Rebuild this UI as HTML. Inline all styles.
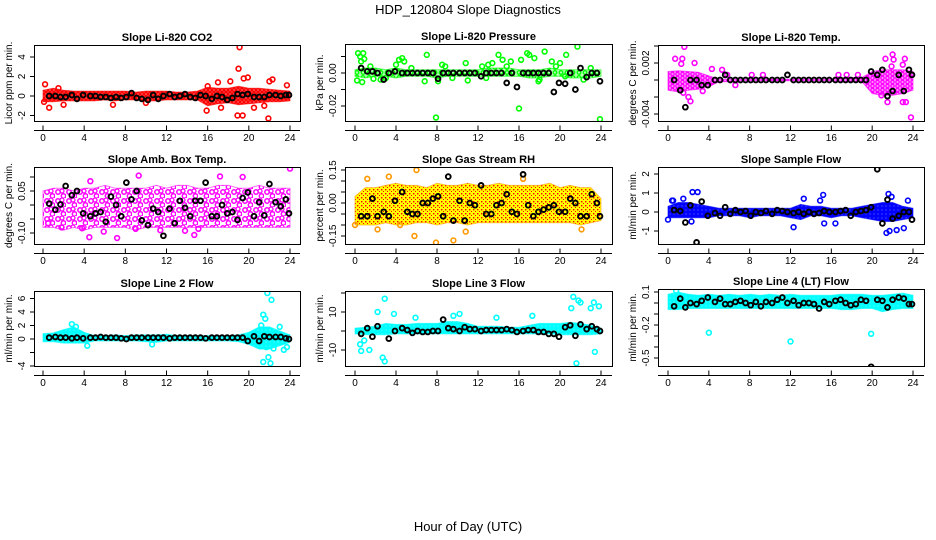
<!DOCTYPE html>
<html><head><meta charset="utf-8"><style>
html,body{margin:0;padding:0;background:#fff;}
svg{display:block;font-family:"Liberation Sans",sans-serif;}
</style></head><body>
<svg id="chart" width="936" height="540" viewBox="0 0 936 540" xmlns="http://www.w3.org/2000/svg">
<defs>
 <pattern id="pat-red" width="4" height="4" patternUnits="userSpaceOnUse"><circle cx="2" cy="2" r="1.6" fill="none" stroke="#f00" stroke-width="1.2"/></pattern>
 <pattern id="pat-green" width="6" height="5" patternUnits="userSpaceOnUse"><circle cx="3" cy="2.5" r="1.8" fill="none" stroke="#0f0" stroke-width="1.3"/></pattern>
 <pattern id="pat-magenta" width="5" height="4" patternUnits="userSpaceOnUse"><circle cx="2.5" cy="2" r="1.7" fill="none" stroke="#f0f" stroke-width="1.3"/></pattern>
 <pattern id="pat-magsparse" width="11" height="9" patternUnits="userSpaceOnUse"><circle cx="3" cy="3" r="2.2" fill="none" stroke="#f0f" stroke-width="1.5"/><circle cx="8.5" cy="7" r="2.2" fill="none" stroke="#f0f" stroke-width="1.5"/><circle cx="7" cy="2" r="2" fill="none" stroke="#f0f" stroke-width="1.3"/></pattern>
 <pattern id="pat-yellow" width="4" height="4" patternUnits="userSpaceOnUse"><rect width="4" height="4" fill="#ff0"/><rect x="1" y="1" width="1.4" height="1.4" fill="#f00"/><rect x="3" y="3" width="1" height="1" fill="#f00"/></pattern>
 <pattern id="pat-blue" width="4" height="4" patternUnits="userSpaceOnUse"><rect width="4" height="4" fill="#00f"/><circle cx="2" cy="2" r="0.6" fill="#66f"/></pattern>
 <pattern id="pat-cyan" width="4" height="4" patternUnits="userSpaceOnUse"><rect width="4" height="4" fill="#0ff"/><circle cx="2" cy="2" r="0.5" fill="#9ff"/></pattern>
</defs>
<text x="468" y="14" text-anchor="middle" font-size="13">HDP_120804  Slope Diagnostics</text>
<text x="468" y="531" text-anchor="middle" font-size="13">Hour of Day (UTC)</text>
<g id="panels"></g>
</svg>
<script>
// ---- shared data ----
const xTicks = [0,4,8,12,16,20,24];
const baseHours = [0.6,1.2,1.7,2.2,2.8,3.3,3.9,4.6,5.1,5.6,6.1,6.6,7.1,7.6,8.1,8.6,9.1,9.6,10.2,10.7,11.2,11.7,12.3,12.8,13.3,13.8,14.3,14.8,15.3,15.8,16.4,16.9,17.4,17.9,18.4,18.9,19.4,19.9,20.5,21.0,21.5,22.0,22.6,23.1,23.6,23.9];
const bandHours = [0,1,2,3,4,5,6,7,8,9,10,11,12,13,14,15,16,17,18,19,20,21,22,23,24];

// ---- CO2 ----
const co2Lo = [-0.6,-0.6,-0.5,-0.5,-0.5,-0.5,-0.4,-0.5,-0.4,-0.4,-0.5,-0.5,-0.4,-0.4,-0.4,-0.4,-1.0,-0.8,-0.7,-0.9,-0.8,-0.7,-0.6,-0.6,-0.5];
const co2Hi = [0.6,0.8,0.6,0.5,0.5,0.5,0.5,0.5,0.5,0.4,0.5,0.5,0.5,0.4,0.4,0.5,0.9,0.8,0.8,1.0,0.8,0.8,0.7,0.6,0.5];
const co2OutX = [0.2,0.6,1.5,2.0,6.8,10.0,15.9,16.0,17.0,18.2,18.9,19.0,19.1,19.5,19.9,19.4,21.9,22.0,22.3,23.7,20.5,21.5,17.3,0.1];
const co2OutY = [1.2,-1.2,0.8,-0.9,-0.9,-0.7,-1.5,1.0,1.4,1.5,-2.0,2.8,5.0,1.8,1.9,-2.0,-2.3,1.5,1.7,1.1,-1.2,-1.0,-1.2,-0.6];
const co2Base = [0,0,-0.1,-0.1,0.1,-0.3,0.1,0,0,-0.1,-0.1,-0.2,-0.1,-0.2,-0.1,0.3,-0.2,-0.3,-0.4,0.1,-0.3,0,0.2,-0.1,0,0.2,-0.1,-0.2,0.1,0,-0.3,0,-0.1,-0.4,-0.2,0.2,0.1,0.2,-0.1,-0.1,-0.1,0.1,0.1,0,0.1,0.1];
// ---- Pressure ----
const prsLo = [-0.002,-0.003,-0.002,-0.002,-0.003,-0.002,-0.002,-0.002,-0.003,-0.002,-0.002,-0.002,-0.002,-0.002,-0.002,-0.002,-0.002,-0.003,-0.003,-0.002,-0.002,-0.003,-0.003,-0.003,-0.002];
const prsHi = [0.002,0.003,0.003,0.002,0.003,0.002,0.002,0.002,0.002,0.002,0.002,0.002,0.002,0.003,0.003,0.003,0.002,0.002,0.002,0.003,0.002,0.002,0.002,0.002,0.002];
const prsOutX = [0.2,0.3,0.5,0.6,0.8,0.9,0.7,1.8,3.0,4.3,4.6,4.8,6.8,7.0,7.9,8.1,8.5,10.8,11.0,12.8,13.4,14.0,14.4,15.2,16.0,16.2,16.8,17.0,17.5,17.9,18.5,19.2,20.0,20.6,21.7,23.9,20.5,1.5,2.5,5.5,9.5,13.0,14.8,18.0,19.6,22.3,23.0,4.0,8.8,12.4];
const prsOutY = [-0.0045,0.012,0.010,0.007,0.012,0.0085,-0.0055,-0.0035,-0.003,0.008,0.009,0.007,-0.005,0.011,-0.027,-0.005,0.005,0.006,-0.0045,-0.003,0.006,0.011,0.008,0.007,-0.0215,0.008,0.012,0.011,0.009,-0.005,0.013,0.007,0.006,0.011,0.016,-0.028,-0.002,0.004,-0.004,0.003,-0.003,0.005,0.004,-0.004,0.004,-0.004,0.003,0.005,0.004,0.004];
const prsBase = [0.003,0.001,0.001,0,-0.004,0,0.001,0,0,0,0,0,0,0,-0.0035,0,0,0,0,0,0,0,-0.002,0,0,0,0,-0.006,0,-0.0085,0,0,0,0,0,0,-0.0115,-0.006,-0.0065,0,-0.01,0.003,-0.0025,0,0,-0.005];
// ---- Li-820 Temp ----
const tmpLo = [-0.0012,-0.0014,-0.0012,-0.0011,-0.0008,-0.0002,-0.0002,-0.0001,-0.0001,-0.0001,-0.0001,-0.0001,-0.0001,-0.0001,-0.0001,-0.0001,-0.0001,-0.0002,-0.0002,-0.0002,-0.0016,-0.0018,-0.0018,-0.0016,-0.0012];
const tmpHi = [0.0010,0.0011,0.0010,0.0009,0.0005,0.0001,0.0001,0.0001,0.0001,0.0001,0.0001,0.0001,0.0001,0.0001,0.0001,0.0001,0.0001,0.0002,0.0003,0.0003,0.0010,0.0012,0.0012,0.0012,0.0010];
const tmpOutX = [0.7,1.4,1.6,1.3,2.6,1.5,2.2,2.0,4.3,5.3,21.3,22.0,23.2,22.1,21.9,23.0,20.9,21.5,23.3,23.0,23.8,5.8,8.2,9.3,16.7,17.5,18.6,6.6,3.4];
const tmpOutY = [0.0025,0.0025,0.0039,0.0019,0.0020,-0.0015,-0.0025,-0.0020,0.0013,0.0012,0.0025,0.0030,0.0025,0.0024,0.0016,0.0018,-0.0018,-0.0026,-0.0026,-0.0026,-0.0044,0.0006,0.0006,0.0006,0.0006,0.0006,0.0006,-0.0006,-0.0013];
const tmpBase = [0,-0.0012,-0.0032,0,0,-0.0006,-0.0006,0,0,0.0006,0,0,0,0,0,0,0,0,0,0,0,0.0006,0,0,0,0,0,0,0,0,0,0,0,0,0,0,0,0.001,0.0006,0.0012,-0.0019,-0.0013,0.0006,-0.0013,0.0012,0.0006];
// ---- Amb Box Temp ----
const ambLo = [-0.08,-0.08,-0.09,-0.08,-0.09,-0.08,-0.08,-0.08,-0.08,-0.09,-0.08,-0.08,-0.08,-0.08,-0.08,-0.08,-0.08,-0.08,-0.08,-0.08,-0.08,-0.08,-0.08,-0.08,-0.08];
const ambHi = [0.05,0.06,0.06,0.05,0.06,0.06,0.07,0.06,0.06,0.06,0.06,0.07,0.06,0.07,0.07,0.06,0.06,0.07,0.07,0.06,0.06,0.07,0.06,0.06,0.06];
const ambOutX = [4.6,9.3,17.2,19.4,24.0,7.2,4.5,14.7,3.8,0.5,5.9,11.4,13.8,15.1,1.8,9.0];
const ambOutY = [0.085,0.105,0.102,0.100,0.130,-0.118,-0.115,-0.107,-0.083,-0.065,-0.095,-0.090,-0.092,-0.085,-0.080,-0.085];
const ambBase = [0.005,-0.017,0.002,0.068,0.035,0.050,-0.030,-0.040,-0.030,-0.025,-0.060,0.030,0.000,-0.040,0.080,0.020,0.050,-0.055,-0.072,-0.013,-0.025,-0.110,-0.013,-0.065,0.015,-0.010,-0.040,0.015,0.015,0.080,-0.040,-0.040,0.000,-0.030,-0.025,-0.053,0.025,0.045,-0.040,0.010,-0.037,0.075,0.010,-0.005,0.020,-0.030];
// ---- Gas Stream RH ----
const rhLo = [-0.10,-0.10,-0.10,-0.09,-0.10,-0.10,-0.09,-0.09,-0.10,-0.09,-0.09,-0.10,-0.09,-0.09,-0.09,-0.09,-0.09,-0.09,-0.09,-0.09,-0.09,-0.09,-0.10,-0.09,-0.08];
const rhHi = [0.03,0.07,0.07,0.08,0.09,0.08,0.08,0.07,0.09,0.08,0.08,0.09,0.08,0.08,0.09,0.08,0.08,0.08,0.08,0.09,0.07,0.08,0.07,0.07,0.02];
const rhOutX = [3.4,6.0,5.8,7.9,9.6,10.8,2.2,4.4,22.1,0.0,16.4,1.2,3.3];
const rhOutY = [0.18,0.15,-0.15,-0.18,-0.17,-0.13,-0.12,-0.10,-0.12,-0.10,0.11,0.11,0.12];
const rhBase = [-0.06,-0.06,0.02,-0.06,-0.04,-0.06,0.01,0.05,-0.04,-0.05,-0.05,0.00,0.00,0.02,0.03,-0.06,0.12,-0.08,0.01,-0.08,0.00,-0.01,0.08,-0.05,-0.05,-0.01,0.00,0.04,-0.04,-0.05,0.13,-0.01,-0.06,-0.04,-0.03,-0.02,-0.01,-0.04,-0.04,0.02,0.00,-0.06,-0.06,0.04,0.00,-0.06];
// ---- Sample Flow ----
const smpLo = [-0.3,-0.3,-0.3,-0.3,-0.3,-0.2,-0.2,-0.2,-0.3,-0.2,-0.2,-0.2,-0.3,-0.4,-0.2,-0.2,-0.3,-0.2,-0.2,-0.3,-0.4,-0.5,-0.5,-0.4,-0.3];
const smpHi = [0.3,0.5,0.5,0.4,0.3,0.2,0.2,0.2,0.2,0.2,0.2,0.2,0.2,0.4,0.3,0.3,0.2,0.2,0.2,0.3,0.4,0.5,0.5,0.3,0.2];
const smpOutX = [0.4,1.5,2.4,2.9,13.3,15.2,14.9,21.6,21.9,23.5,21.4,21.7,22.4,23.1,12.3,15.3,16.4,0.0,2.3,0.5];
const smpOutY = [0.6,0.7,1.05,1.05,0.7,0.9,0.6,0.95,0.8,0.6,-1.1,-1.0,-0.95,-0.85,-0.8,-0.6,-0.6,-0.4,-0.5,0.6];
const smpBase = [0.1,0.05,-0.55,0.35,-1.6,0.55,-0.2,-0.05,-0.2,0.25,-0.1,0.1,0.0,0.05,-0.2,0.0,-0.05,0.05,-0.1,0.1,0.05,0.0,-0.05,0.0,-0.1,0.0,-0.1,-0.05,0.05,0.0,0.0,0.05,0.1,-0.2,0.0,0.05,0.1,0.25,2.25,-0.6,0.65,-0.35,-0.2,0.0,0.0,-0.4];
// ---- Line 2 Flow ----
const l2Lo = [-0.4,-0.4,-0.6,-0.6,-0.6,-0.3,-0.3,-0.3,-0.3,-0.3,-0.4,-0.5,-0.3,-0.3,-0.3,-0.3,-0.3,-0.3,-0.3,-0.4,-0.8,-1.5,-1.5,-1.0,-0.5];
const l2Hi = [0.8,0.9,1.4,1.8,1.0,0.5,0.5,0.6,0.5,0.6,0.6,0.6,0.7,0.5,0.5,0.5,0.5,0.5,0.5,0.6,1.0,1.8,1.8,1.2,0.6];
const l2OutX = [2.8,3.2,21.8,22.2,21.4,21.6,21.2,23.0,21.4,21.9,22.1,21.7,22.4,23.4,4.3,10.6,23.7];
const l2OutY = [2.2,1.8,6.8,5.8,3.6,3.0,2.0,1.8,-3.4,-2.7,-3.6,-1.2,-1.4,-1.6,-1.0,-0.8,-1.2];
const l2Base = [0.2,0.3,0.2,0.2,0.1,0.2,0.1,0.2,0.2,0.3,0.2,0.2,0.2,0.1,0.0,0.2,0.2,0.2,0.2,0.2,0.2,0.2,0.1,0.2,0.2,0.2,0.2,0.2,0.2,0.1,0.2,0.2,0.2,0.2,0.2,0.2,0.2,-0.3,0.4,-0.3,0.4,0.3,0.3,0.3,0.1,0.0];
// ---- Line 3 Flow ----
const l3Lo = [-1.5,-2.0,-2.0,-2.0,-1.5,-1.5,-1.5,-1.5,-1.5,-1.5,-1.5,-1.5,-1.5,-1.5,-1.5,-1.5,-1.5,-1.5,-1.5,-1.5,-2.0,-2.0,-2.0,-2.0,-1.5];
const l3Hi = [1.5,2.0,2.5,4.0,3.5,3.5,4.0,4.0,4.0,5.0,5.0,4.0,2.5,2.5,2.5,2.0,2.0,3.0,4.0,4.0,4.0,4.5,4.0,3.0,1.5];
const l3OutX = [2.2,2.9,2.7,2.9,0.5,0.6,1.4,0.9,3.8,21.3,21.8,22.0,21.1,23.3,23.8,23.0,21.6,23.4,17.3,9.6,10.2,5.9,13.8];
const l3OutY = [10,17,-14,-16,-7,-10.5,-10,-5,9,18,16,15,12,15,13,12,-17,-11,8,8,9,7,7];
const l3Base = [-1.5,1.5,-3,2.5,23,-4,0,1.5,0.5,-1,0,-0.5,-0.5,0,0,6,1.5,1,0,2,1,1,0,0.5,0.5,0.5,0.5,1,0.5,-0.5,0,0.5,0.5,-0.5,-0.5,-1.5,-1.5,-3,2,3,-2.5,3.5,1,2.5,1,0];
// ---- Line 4 Flow ----
const l4Lo = [-0.06,-0.06,-0.05,-0.05,-0.05,-0.05,-0.05,-0.05,-0.05,-0.05,-0.05,-0.05,-0.05,-0.05,-0.05,-0.05,-0.05,-0.06,-0.06,-0.05,-0.05,-0.08,-0.06,-0.05,-0.05];
const l4Hi = [0.08,0.10,0.08,0.07,0.08,0.07,0.08,0.07,0.08,0.07,0.08,0.07,0.08,0.07,0.07,0.07,0.07,0.08,0.08,0.08,0.07,0.07,0.08,0.09,0.07];
const l4OutX = [0.8,4.0,12.0,19.9];
const l4OutY = [0.11,-0.27,-0.35,-0.28];
const l4Base = [-0.03,0.04,-0.04,0.0,-0.01,0.02,0.05,0.01,0.04,-0.01,-0.01,0.01,0.02,0.0,-0.02,0.01,-0.03,0.01,0.0,0.03,0.05,0.0,0.02,-0.02,0.0,0.0,-0.01,-0.05,0.01,-0.01,0.02,0.03,0.0,-0.02,-0.01,0.03,0.02,-0.58,0.03,0.02,-0.04,0.03,0.05,0.04,-0.01,-0.01];

const panels = [
 {name:'co2',title:'Slope Li-820 CO2',ylab:'Licor ppm per min.',L:34,R:300,T:45,B:121,x0:43,x24:290,yRef:[0,96,4,57],ticks:[-2,0,2,4],labs:['-2','0','2','4'],lo:co2Lo,hi:co2Hi,ox:co2OutX,oy:co2OutY,base:co2Base,color:'#f00',fill:'url(#pat-red)',under:0.7},
 {name:'pressure',title:'Slope Li-820 Pressure',ylab:'kPa per min.',L:345,R:612,T:44,B:121,x0:355,x24:601,yRef:[0,73,-0.02,106],ticks:[0.01,0,-0.01,-0.02],labs:['','0.00','','-0.02'],lo:prsLo,hi:prsHi,ox:prsOutX,oy:prsOutY,base:prsBase,color:'#0f0',fill:'url(#pat-green)',under:0.3},
 {name:'li820-temp',title:'Slope Li-820 Temp.',ylab:'degrees C per min.',L:658,R:924,T:45,B:121,x0:668,x24:913,yRef:[0,80,0.002,63],ticks:[0.004,0.002,0,-0.002,-0.004],labs:['','0.002','','','-0.004'],lo:tmpLo,hi:tmpHi,ox:tmpOutX,oy:tmpOutY,base:tmpBase,color:'#f0f',fill:'url(#pat-magenta)',under:0.4},
 {name:'amb-box-temp',title:'Slope Amb. Box Temp.',ylab:'degrees C per min.',L:34,R:300,T:167,B:244,x0:43,x24:290,yRef:[0,205,0.05,191],ticks:[0.1,0.05,0,-0.05,-0.1],labs:['','0.05','','','-0.10'],lo:ambLo,hi:ambHi,ox:ambOutX,oy:ambOutY,base:ambBase,color:'#f0f',fill:'url(#pat-magsparse)',under:0},
 {name:'gas-stream-rh',title:'Slope Gas Stream RH',ylab:'percent per min.',L:345,R:612,T:167,B:244,x0:355,x24:601,yRef:[0,203,0.15,170],ticks:[0.15,0.1,0.05,0,-0.05,-0.1,-0.15],labs:['0.15','','','0.00','','','-0.15'],lo:rhLo,hi:rhHi,ox:rhOutX,oy:rhOutY,base:rhBase,color:'#f90',fill:'url(#pat-yellow)',under:0},
 {name:'sample-flow',title:'Slope Sample Flow',ylab:'ml/min per min.',L:658,R:924,T:167,B:244,x0:668,x24:913,yRef:[0,212,1,193],ticks:[2,1,0,-1],labs:['2','1','0','-1'],lo:smpLo,hi:smpHi,ox:smpOutX,oy:smpOutY,base:smpBase,color:'#00f',fill:'url(#pat-blue)',under:0},
 {name:'line2-flow',title:'Slope Line 2 Flow',ylab:'ml/min per min.',L:34,R:300,T:291,B:366,x0:43,x24:290,yRef:[0,339,4,312],ticks:[6,4,2,0,-2,-4],labs:['6','4','2','0','','-4'],lo:l2Lo,hi:l2Hi,ox:l2OutX,oy:l2OutY,base:l2Base,color:'#0ff',fill:'url(#pat-cyan)',under:0},
 {name:'line3-flow',title:'Slope Line 3 Flow',ylab:'ml/min per min.',L:345,R:612,T:291,B:366,x0:355,x24:601,yRef:[0,331,10,312],ticks:[20,10,0,-10],labs:['','10','','-10'],lo:l3Lo,hi:l3Hi,ox:l3OutX,oy:l3OutY,base:l3Base,color:'#0ff',fill:'url(#pat-cyan)',under:0},
 {name:'line4-flow',title:'Slope Line 4 (LT) Flow',ylab:'ml/min per min.',L:658,R:924,T:289,B:366,x0:668,x24:913,yRef:[0,303,0.1,292],ticks:[0.1,0,-0.1,-0.2,-0.3,-0.4,-0.5],labs:['0.1','','','-0.2','','','-0.5'],lo:l4Lo,hi:l4Hi,ox:l4OutX,oy:l4OutY,base:l4Base,color:'#0ff',fill:'url(#pat-cyan)',under:0}
];

const NS='http://www.w3.org/2000/svg';
function mk(tag, attrs, parent){const e=document.createElementNS(NS,tag);for(const k in attrs)e.setAttribute(k,attrs[k]);if(parent)parent.appendChild(e);return e;}
const root=document.getElementById('panels');

panels.forEach((p,pi)=>{
  const xs=h=>p.x0+(h/24)*(p.x24-p.x0);
  const ys=v=>p.yRef[1]+(v-p.yRef[0])*(p.yRef[3]-p.yRef[1])/(p.yRef[2]-p.yRef[0]);
  const g=mk('g',{},root);
  
  
  const cid='clip'+pi;
  const cp=mk('clipPath',{id:cid},g); mk('rect',{x:p.L,y:p.T,width:p.R-p.L,height:p.B-p.T},cp);
  const t=mk('text',{x:(p.L+p.R)/2,y:p.T-4,'text-anchor':'middle','font-size':'11','font-weight':'bold'},g);
  t.textContent=p.title;
  
  
  const dg=mk('g',{'clip-path':'url(#'+cid+')'},g);
  
  
  let top='',bot='';
  bandHours.forEach((h,i)=>{top+=(i?'L':'M')+xs(h).toFixed(1)+','+ys(p.hi[i]).toFixed(1);});
  for(let i=bandHours.length-1;i>=0;i--){bot+='L'+xs(bandHours[i]).toFixed(1)+','+ys(p.lo[i]).toFixed(1);}
  const d=top+bot+'Z';
  if(p.under>0){const u=mk('path',{d:d,fill:p.color,'fill-opacity':p.under},dg);
    
    }
  const band=mk('path',{d:d,fill:p.fill,stroke:p.color,'stroke-width':'1','stroke-opacity':'0.6','stroke-linejoin':'round'},dg);
  
  
  p.ox.forEach((x,i)=>{
    const c=mk('circle',{cx:xs(x),cy:ys(p.oy[i]),r:2.4,fill:'none',stroke:p.color,'stroke-width':'1.6'},dg);
    
    
  });
  p.base.forEach((v,i)=>{
    const c=mk('circle',{cx:xs(baseHours[i]),cy:ys(v),r:2.4,fill:'none',stroke:'#000','stroke-width':'1.9'},dg);
    
    
  });
  const box=mk('rect',{x:p.L+0.5,y:p.T+0.5,width:p.R-p.L,height:p.B-p.T,fill:'none',stroke:'#000','stroke-width':'1'},g);
  
  
  const ax=mk('g',{},g);
  
  
  const yl=p.B+9.5;
  mk('line',{x1:p.L,x2:p.R,y1:yl,y2:yl,stroke:'#000'},ax);
  xTicks.forEach(h=>{
    mk('line',{x1:xs(h),x2:xs(h),y1:yl,y2:yl-5,stroke:'#000'},ax);
    const tl=mk('text',{x:xs(h),y:p.B+20,'text-anchor':'middle','font-size':'10'},ax);
    tl.textContent=h;
  });
  const ay=mk('g',{},g);
  
  
  p.ticks.forEach((v,i)=>{
    const yy=ys(v);
    mk('line',{x1:p.L,x2:p.L-4,y1:yy,y2:yy,stroke:'#000'},ay);
    if(p.labs[i]){const tl=mk('text',{x:0,y:0,'text-anchor':'middle','font-size':'10',transform:'translate('+(p.L-9)+','+yy+') rotate(-90)'},ay);tl.textContent=p.labs[i];}
  });
  const yt=mk('text',{x:0,y:0,'text-anchor':'middle','font-size':'10',transform:'translate('+(p.L-22)+','+((p.T+p.B)/2)+') rotate(-90)'},g);
  yt.textContent=p.ylab;
  
  
});
</script>
</body></html>
